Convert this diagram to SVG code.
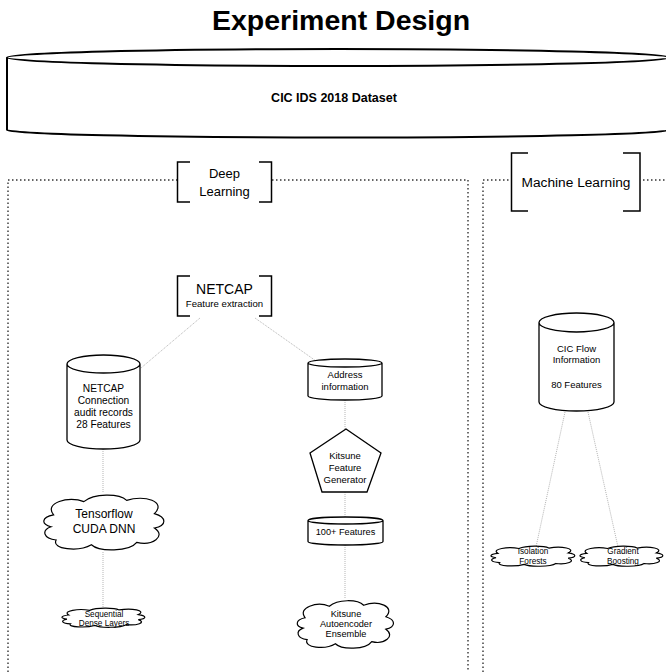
<svg xmlns="http://www.w3.org/2000/svg" width="666" height="672" viewBox="0 0 666 672">
<style>
text{font-family:"Liberation Sans",Arial,sans-serif;fill:#000;text-anchor:middle}
.shape{fill:#fff;stroke:#000;stroke-width:1.3}
.cloud{fill:#fff;stroke:#000;stroke-width:1.2}
.bracket{fill:none;stroke:#000;stroke-width:1.5}
.frame{fill:none;stroke:#333;stroke-width:1.4;stroke-dasharray:1.5 2.5}
.conn{fill:none;stroke:#b5b5b5;stroke-width:1;stroke-dasharray:1 1}
.t{font-size:9.5px}
</style>
<rect width="666" height="672" fill="#fff"/>
<text x="341" y="30" style="font-size:28.5px;font-weight:bold">Experiment Design</text>

<g id="dataset">
<path class="shape" style="stroke-width:2" d="M7,57.5 A331,8.5 0 0 1 669,57.5 A331,8.5 0 0 1 7,57.5 Z M7,57.5 L7,130 A331,7.5 0 0 0 669,130 L669,57.5"/>
<text x="334" y="102" style="font-size:12.5px;font-weight:bold">CIC IDS 2018 Dataset</text>
</g>

<g id="frames">
<rect class="frame" x="8" y="180" width="460" height="520"/>
<rect class="frame" x="483" y="180" width="220" height="520"/>
</g>

<g id="connectors">
<line class="conn" x1="200" y1="318" x2="141" y2="368"/>
<line class="conn" x1="255" y1="318" x2="316" y2="361"/>
<line class="conn" x1="103" y1="449" x2="103" y2="492"/>
<line class="conn" x1="103" y1="552" x2="103" y2="607"/>
<line class="conn" x1="345" y1="400" x2="345" y2="429"/>
<line class="conn" x1="345" y1="492" x2="345" y2="517"/>
<line class="conn" x1="345" y1="545" x2="345" y2="598"/>
<line class="conn" x1="565" y1="412" x2="536" y2="547"/>
<line class="conn" x1="588" y1="412" x2="618" y2="547"/>
</g>

<g id="deep-learning">
<rect x="177" y="162" width="95" height="40" fill="#fff"/>
<path class="bracket" d="M190,162 H177.5 V202 H190 M259,162 H271.5 V202 H259"/>
<text x="224.5" y="178" style="font-size:13px">Deep</text>
<text x="224.5" y="196" style="font-size:13px">Learning</text>
</g>

<g id="machine-learning">
<rect x="511" y="153" width="130" height="58" fill="#fff"/>
<path class="bracket" d="M528,153 H511.5 V211 H528 M623,153 H640 V211 H623"/>
<text x="576" y="187" style="font-size:13.7px">Machine Learning</text>
</g>

<g id="netcap">
<path class="bracket" d="M190,276 H177.5 V316 H190 M259,276 H271.5 V316 H259"/>
<text x="224.5" y="294" style="font-size:14px">NETCAP</text>
<text x="224.5" y="307" style="font-size:9.6px">Feature extraction</text>
</g>

<g id="netcap-records">
<path class="shape" d="M67,364 A36.5,9 0 0 1 140,364 A36.5,9 0 0 1 67,364 Z M67,364 L67,440 A36.5,9 0 0 0 140,440 L140,364"/>
<text x="103.5" y="392" style="font-size:10.2px">NETCAP</text>
<text x="103.5" y="404" style="font-size:10.2px">Connection</text>
<text x="103.5" y="416" style="font-size:10.2px">audit records</text>
<text x="103.5" y="428" style="font-size:10.2px">28 Features</text>
</g>

<g id="tensorflow">
<path class="cloud" vector-effect="non-scaling-stroke" transform="translate(41,492) scale(1.26,0.6)" d="M10,38 C2,18 22,6 34,16 C42,2 62,2 68,14 C82,4 100,16 90,36 C100,42 100,56 90,60 C100,74 88,90 76,84 C70,100 46,100 40,88 C30,100 8,96 12,80 C2,78 0,64 8,58 C0,54 0,42 10,38 Z"/>
<text x="104" y="518" style="font-size:12px">Tensorflow</text>
<text x="104" y="533" style="font-size:12px">CUDA DNN</text>
</g>

<g id="sequential">
<path class="cloud" vector-effect="non-scaling-stroke" transform="translate(60,607) scale(0.87,0.21)" d="M10,38 C2,18 22,6 34,16 C42,2 62,2 68,14 C82,4 100,16 90,36 C100,42 100,56 90,60 C100,74 88,90 76,84 C70,100 46,100 40,88 C30,100 8,96 12,80 C2,78 0,64 8,58 C0,54 0,42 10,38 Z"/>
<text x="104" y="617" style="font-size:8.2px">Sequential</text>
<text x="104" y="626" style="font-size:8.2px">Dense Layers</text>
</g>

<g id="address">
<path class="shape" d="M308,363 A37,4 0 0 1 382,363 A37,4 0 0 1 308,363 Z M308,363 L308,396 A37,4 0 0 0 382,396 L382,363"/>
<text x="345" y="378" class="t">Address</text>
<text x="345" y="390" class="t">information</text>
</g>

<g id="kitsune-generator">
<polygon class="shape" points="346,429 381,453 367,492 322,492 310,453"/>
<text x="345" y="459" class="t">Kitsune</text>
<text x="345" y="471" class="t">Feature</text>
<text x="345" y="483" class="t">Generator</text>
</g>

<g id="features100">
<path class="shape" d="M308,520.5 A37.5,3.5 0 0 1 383,520.5 A37.5,3.5 0 0 1 308,520.5 Z M308,520.5 L308,541.5 A37.5,3.5 0 0 0 383,541.5 L383,520.5"/>
<text x="345.5" y="535" style="font-size:9.2px">100+ Features</text>
</g>

<g id="kitsune-ae">
<path class="cloud" vector-effect="non-scaling-stroke" transform="translate(295,598) scale(1.01,0.52)" d="M10,38 C2,18 22,6 34,16 C42,2 62,2 68,14 C82,4 100,16 90,36 C100,42 100,56 90,60 C100,74 88,90 76,84 C70,100 46,100 40,88 C30,100 8,96 12,80 C2,78 0,64 8,58 C0,54 0,42 10,38 Z"/>
<text x="346" y="617" style="font-size:9.2px">Kitsune</text>
<text x="346" y="627" style="font-size:9.2px">Autoencoder</text>
<text x="346" y="637" style="font-size:9.2px">Ensemble</text>
</g>

<g id="cic-flow">
<path class="shape" d="M539,322.5 A37.5,9.5 0 0 1 614,322.5 A37.5,9.5 0 0 1 539,322.5 Z M539,322.5 L539,402 A37.5,9 0 0 0 614,402 L614,322.5"/>
<text x="576.5" y="352" class="t">CIC Flow</text>
<text x="576.5" y="363" class="t">Information</text>
<text x="576.5" y="388" class="t">80 Features</text>
</g>

<g id="isolation-forests">
<path class="cloud" vector-effect="non-scaling-stroke" transform="translate(489,545) scale(0.88,0.22)" d="M10,38 C2,18 22,6 34,16 C42,2 62,2 68,14 C82,4 100,16 90,36 C100,42 100,56 90,60 C100,74 88,90 76,84 C70,100 46,100 40,88 C30,100 8,96 12,80 C2,78 0,64 8,58 C0,54 0,42 10,38 Z"/>
<text x="533" y="554" style="font-size:8.2px">Isolation</text>
<text x="533" y="564" style="font-size:8.2px">Forests</text>
</g>

<g id="gradient-boosting">
<path class="cloud" vector-effect="non-scaling-stroke" transform="translate(578,545) scale(0.87,0.22)" d="M10,38 C2,18 22,6 34,16 C42,2 62,2 68,14 C82,4 100,16 90,36 C100,42 100,56 90,60 C100,74 88,90 76,84 C70,100 46,100 40,88 C30,100 8,96 12,80 C2,78 0,64 8,58 C0,54 0,42 10,38 Z"/>
<text x="623" y="554" style="font-size:8.2px">Gradient</text>
<text x="623" y="564" style="font-size:8.2px">Boosting</text>
</g>
</svg>
